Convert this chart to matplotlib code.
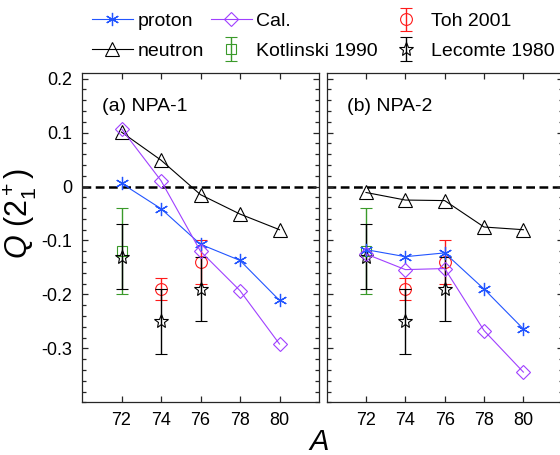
import matplotlib.pyplot as plt
from matplotlib.ticker import MultipleLocator
from matplotlib.legend_handler import HandlerErrorbar

plt.rcParams['font.family'] = ['Liberation Sans', 'DejaVu Sans']
plt.rcParams['mathtext.fontset'] = 'custom'
plt.rcParams['mathtext.rm'] = 'Liberation Sans'
plt.rcParams['mathtext.it'] = 'Liberation Sans:italic'
plt.rcParams['axes.unicode_minus'] = False

# --- data ---
A = [72, 74, 76, 78, 80]

# (a) NPA-1
proton_1 = [0.006, -0.041, -0.107, -0.137, -0.211]
neutron_1 = [0.101, 0.049, -0.015, -0.051, -0.080]
cal_1 = [0.107, 0.011, -0.120, -0.193, -0.292]

# (b) NPA-2
proton_2 = [-0.117, -0.130, -0.123, -0.190, -0.264]
neutron_2 = [-0.011, -0.025, -0.026, -0.075, -0.080]
cal_2 = [-0.125, -0.154, -0.152, -0.267, -0.344]

# experiments
kot_A = [72]
kot_Q = [-0.12]
kot_err = [0.08]

toh_A = [74, 76]
toh_Q = [-0.19, -0.14]
toh_err = [0.02, 0.04]

lec_A = [72, 74, 76]
lec_Q = [-0.13, -0.25, -0.19]
lec_err = [0.06, 0.06, 0.06]

panel_names = ['(a) NPA-1', '(b) NPA-2']
yticks = [-0.3, -0.2, -0.1, 0, 0.1, 0.2]
ytick_labels = ['-0.3', '-0.2', '-0.1', '0', '0.1', '0.2']

BLUE = '#2255ff'
PURPLE = '#a040ff'
RED = '#ff1a1a'
GREEN = '#3a9a2a'
ASTERISK = (6, 2, 0)

fig = plt.figure(figsize=(5.6, 4.55), dpi=100)
W, H = 560, 455
bottom = 1 - 402.3 / H
height = 329 / H
ax1 = fig.add_axes([82 / W, bottom, 237 / W, height])
ax2 = fig.add_axes([326.7 / W, bottom, 236 / W, height])

theory = [(proton_1, neutron_1, cal_1), (proton_2, neutron_2, cal_2)]
handles = {}
for i, (ax, (pr, ne, ca)) in enumerate(zip([ax1, ax2], theory)):
    ax.axhline(0, color='k', lw=1.8, ls=(0, (3.5, 1.8)), zorder=1)

    h = ax.errorbar(kot_A, kot_Q, yerr=kot_err, fmt='s', color=GREEN, mfc='none',
                    ms=6.5, mew=0.8, elinewidth=1, capsize=4, capthick=1, zorder=2)
    handles['kot'] = h
    h = ax.errorbar(toh_A, toh_Q, yerr=toh_err, fmt='o', color=RED, mfc='none',
                    ms=8.5, mew=0.8, elinewidth=1, capsize=4, capthick=1, zorder=3)
    handles['toh'] = h
    h = ax.errorbar(lec_A, lec_Q, yerr=lec_err, fmt='*', color='k', mfc='none',
                    ms=10, mew=0.8, elinewidth=1, capsize=4, capthick=1, zorder=4)
    handles['lec'] = h

    handles['pr'], = ax.plot(A, pr, color=BLUE, marker=ASTERISK, ms=9.5, mew=0.9,
                             lw=0.8, zorder=5)
    handles['ne'], = ax.plot(A, ne, color='k', marker='^', ms=9.5, mfc='none',
                             mew=0.8, lw=0.8, zorder=5)
    handles['ca'], = ax.plot(A, ca, color=PURPLE, marker='D', ms=6.8, mfc='none',
                             mew=0.8, lw=0.8, zorder=5)

    ax.set_xlim(70, 82)
    ax.set_ylim(-0.4, 0.21)
    ax.set_xticks(A)
    ax.set_yticks(yticks)
    ax.set_yticklabels(ytick_labels)
    ax.yaxis.set_minor_locator(MultipleLocator(0.02))
    ax.tick_params(which='both', direction='in', top=True, right=True,
                   width=0.9, colors='#262626', labelcolor='k', labelsize=13, pad=7)
    ax.tick_params(which='major', length=4.5)
    ax.tick_params(which='minor', length=3)
    for s in ax.spines.values():
        s.set_linewidth(0.9)
        s.set_color('#262626')
    if i == 1:
        ax.tick_params(labelleft=False)
    ax.text(0.084, 0.898, panel_names[i], transform=ax.transAxes, fontsize=14,
            va='center', ha='left')

fig.text(20 / W, 1 - 214 / H, r'$\mathit{Q}$ (2$_1^+$)', rotation=90, fontsize=22,
         ha='center', va='center')
fig.text(319 / W, 1 - 442 / H, 'A', fontstyle='italic', fontsize=21,
         ha='center', va='center')

order = ['pr', 'ne', 'ca', 'kot', 'toh', 'lec']
labels = ['proton', 'neutron', 'Cal.', 'Kotlinski 1990', 'Toh 2001', 'Lecomte 1980']
fig.legend([handles[k] for k in order], labels, ncol=3, frameon=False,
           loc='center left', bbox_to_anchor=(92 / W, 1 - 36 / H), fontsize=14,
           handlelength=2.1, handletextpad=0.23, columnspacing=0.38,
           labelspacing=0.62, borderpad=0, borderaxespad=0,
           handler_map={type(handles['toh']): HandlerErrorbar(yerr_size=0.6)})

fig.savefig('out.png', dpi=100)
